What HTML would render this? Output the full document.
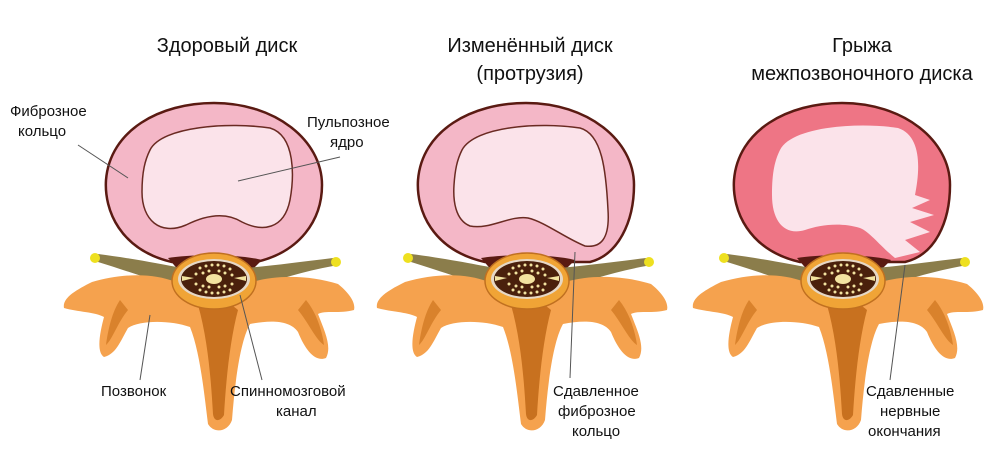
<!DOCTYPE html>
<html><head><meta charset="utf-8"><style>
body{margin:0;background:#fff}
svg{display:block}
text{font-family:"Liberation Sans",sans-serif;fill:#111}
.t{font-size:20px;text-anchor:middle}
.l{font-size:15px}
.ln{stroke:#555;stroke-width:1;fill:none}
</style></head><body>
<svg width="1000" height="463" viewBox="0 0 1000 463" xmlns="http://www.w3.org/2000/svg">
<defs>
<g id="base">
 <path d="M168,258 C190,254 240,254 262,260 L250,272 L180,272 Z" fill="#5a1a12"/>
 <!-- nerves -->
 <path d="M98,254 C130,258 160,264 182,268 L182,290 C160,282 130,272 98,262 Z" fill="#8b7d4b"/>
 <path d="M333,258 C300,262 270,266 246,268 L246,290 C270,282 300,272 333,266 Z" fill="#8b7d4b"/>
 <circle cx="95" cy="258" r="5" fill="#eee020"/>
 <circle cx="336" cy="262" r="5" fill="#eee020"/>
 <!-- vertebra -->
 <path d="M92,282 C120,274 150,272 176,282 L252,282 C280,274 312,276 338,284 C348,292 356,302 354,310 C340,314 325,310 318,314 C325,332 332,347 326,358 C316,362 306,352 298,332 C290,320 270,320 250,324 C240,342 235,382 232,420 C228,432 214,434 208,424 C204,392 200,352 190,327 C170,320 140,320 128,328 C120,342 116,354 104,357 C96,352 100,332 104,317 C95,312 78,312 64,308 C62,298 76,290 92,282 Z" fill="#f5a24e"/>
 <path d="M198,305 C215,300 230,302 238,310 C230,340 226,380 224,415 C220,422 214,422 213,414 C211,380 208,340 198,305 Z" fill="#c8711f"/>
 <path d="M120,300 C112,312 108,330 106,345 C112,340 118,322 128,310 Z" fill="#d9822c"/>
 <path d="M306,300 C316,312 322,330 324,345 C316,340 308,322 298,310 Z" fill="#d9822c"/>
 <!-- canal -->
 <ellipse cx="214" cy="281" rx="42" ry="28" fill="#f0a436" stroke="#c07020" stroke-width="1.5"/>
 <ellipse cx="214" cy="279" rx="36" ry="20" fill="#e6d8c6"/>
 <ellipse cx="214" cy="279" rx="33" ry="18" fill="#4a200c"/>
 <g fill="#f3e3a0">
  <circle cx="200" cy="268" r="1.5"/><circle cx="206" cy="266" r="1.5"/><circle cx="212" cy="265" r="1.5"/><circle cx="218" cy="265" r="1.5"/><circle cx="224" cy="266" r="1.5"/><circle cx="230" cy="269" r="1.5"/>
  <circle cx="196" cy="274" r="1.5"/><circle cx="232" cy="275" r="1.5"/><circle cx="196" cy="284" r="1.5"/><circle cx="232" cy="284" r="1.5"/>
  <circle cx="200" cy="290" r="1.5"/><circle cx="206" cy="292" r="1.5"/><circle cx="212" cy="293" r="1.5"/><circle cx="218" cy="293" r="1.5"/><circle cx="224" cy="292" r="1.5"/><circle cx="230" cy="290" r="1.5"/>
  <circle cx="203" cy="273" r="1.5"/><circle cx="225" cy="273" r="1.5"/><circle cx="203" cy="286" r="1.5"/><circle cx="225" cy="286" r="1.5"/>
  <circle cx="209" cy="271" r="1.5"/><circle cx="219" cy="271" r="1.5"/><circle cx="209" cy="287" r="1.5"/><circle cx="219" cy="287" r="1.5"/>
  <path d="M182,276 L194,278 L182,281 Z M246,276 L234,278 L246,281 Z"/>
  <ellipse cx="214" cy="279" rx="8" ry="5"/>
 </g>
</g>
</defs>

<text class="t" x="227" y="52">Здоровый диск</text>
<text class="t" x="530" y="52">Изменённый диск</text>
<text class="t" x="530" y="80">(протрузия)</text>
<text class="t" x="862" y="52">Грыжа</text>
<text class="t" x="862" y="80">межпозвоночного диска</text>

<!-- Disc 1 -->
<path d="M172,262 C120,250 104,210 106,180 C110,130 160,103 214,103 C275,103 322,140 322,185 C322,220 300,252 256,262 Z" fill="#f4b7c7" stroke="#5a1a12" stroke-width="2.5"/>
<path d="M150,150 C162,126 230,122 270,128 C296,136 294,178 290,200 C284,230 262,232 242,222 C226,212 206,215 186,225 C160,236 142,220 142,192 C142,172 145,160 150,150 Z" fill="#fbe3ea" stroke="#6a2a22" stroke-width="1.5"/>
<use href="#base"/>

<!-- Disc 2 -->
<path d="M485,262 C432,250 416,210 418,180 C422,130 472,103 526,103 C587,103 634,140 634,185 C634,222 618,255 590,262 Z" fill="#f4b7c7" stroke="#5a1a12" stroke-width="2.5"/>
<path d="M462,150 C475,126 540,122 580,128 C602,134 606,170 608,210 C610,240 600,248 585,246 C565,238 545,222 528,218 C510,215 490,230 470,226 C455,220 453,200 454,185 C455,170 457,160 462,150 Z" fill="#fbe3ea" stroke="#6a2a22" stroke-width="1.5"/>
<use href="#base" x="313"/>

<!-- Disc 3 -->
<path d="M800,262 C748,250 732,210 734,180 C738,130 788,103 842,103 C903,103 950,140 950,185 C950,222 935,255 905,262 Z" fill="#ee7585" stroke="#5a1a12" stroke-width="2.5"/>
<path d="M780,150 C792,126 860,122 898,128 C922,136 920,170 915,195 L930,200 L912,208 L934,215 L910,222 L930,232 L905,240 L920,252 L895,258 C880,246 870,232 860,228 C840,222 820,225 805,230 C785,236 772,222 772,195 C772,172 775,160 780,150 Z" fill="#fbe3ea"/>
<use href="#base" x="629"/>

<!-- labels -->
<text class="l" x="10" y="116">Фиброзное</text>
<text class="l" x="18" y="136">кольцо</text>
<line class="ln" x1="78" y1="145" x2="128" y2="178"/>
<text class="l" x="307" y="127">Пульпозное</text>
<text class="l" x="330" y="147">ядро</text>
<line class="ln" x1="340" y1="157" x2="238" y2="181"/>
<text class="l" x="101" y="396">Позвонок</text>
<line class="ln" x1="140" y1="380" x2="150" y2="315"/>
<text class="l" x="230" y="396">Спинномозговой</text>
<text class="l" x="276" y="416">канал</text>
<line class="ln" x1="262" y1="380" x2="240" y2="295"/>
<text class="l" x="553" y="396">Сдавленное</text>
<text class="l" x="558" y="416">фиброзное</text>
<text class="l" x="572" y="436">кольцо</text>
<line class="ln" x1="570" y1="378" x2="575" y2="252"/>
<text class="l" x="866" y="396">Сдавленные</text>
<text class="l" x="880" y="416">нервные</text>
<text class="l" x="868" y="436">окончания</text>
<line class="ln" x1="890" y1="380" x2="905" y2="265"/>
</svg>
</body></html>
